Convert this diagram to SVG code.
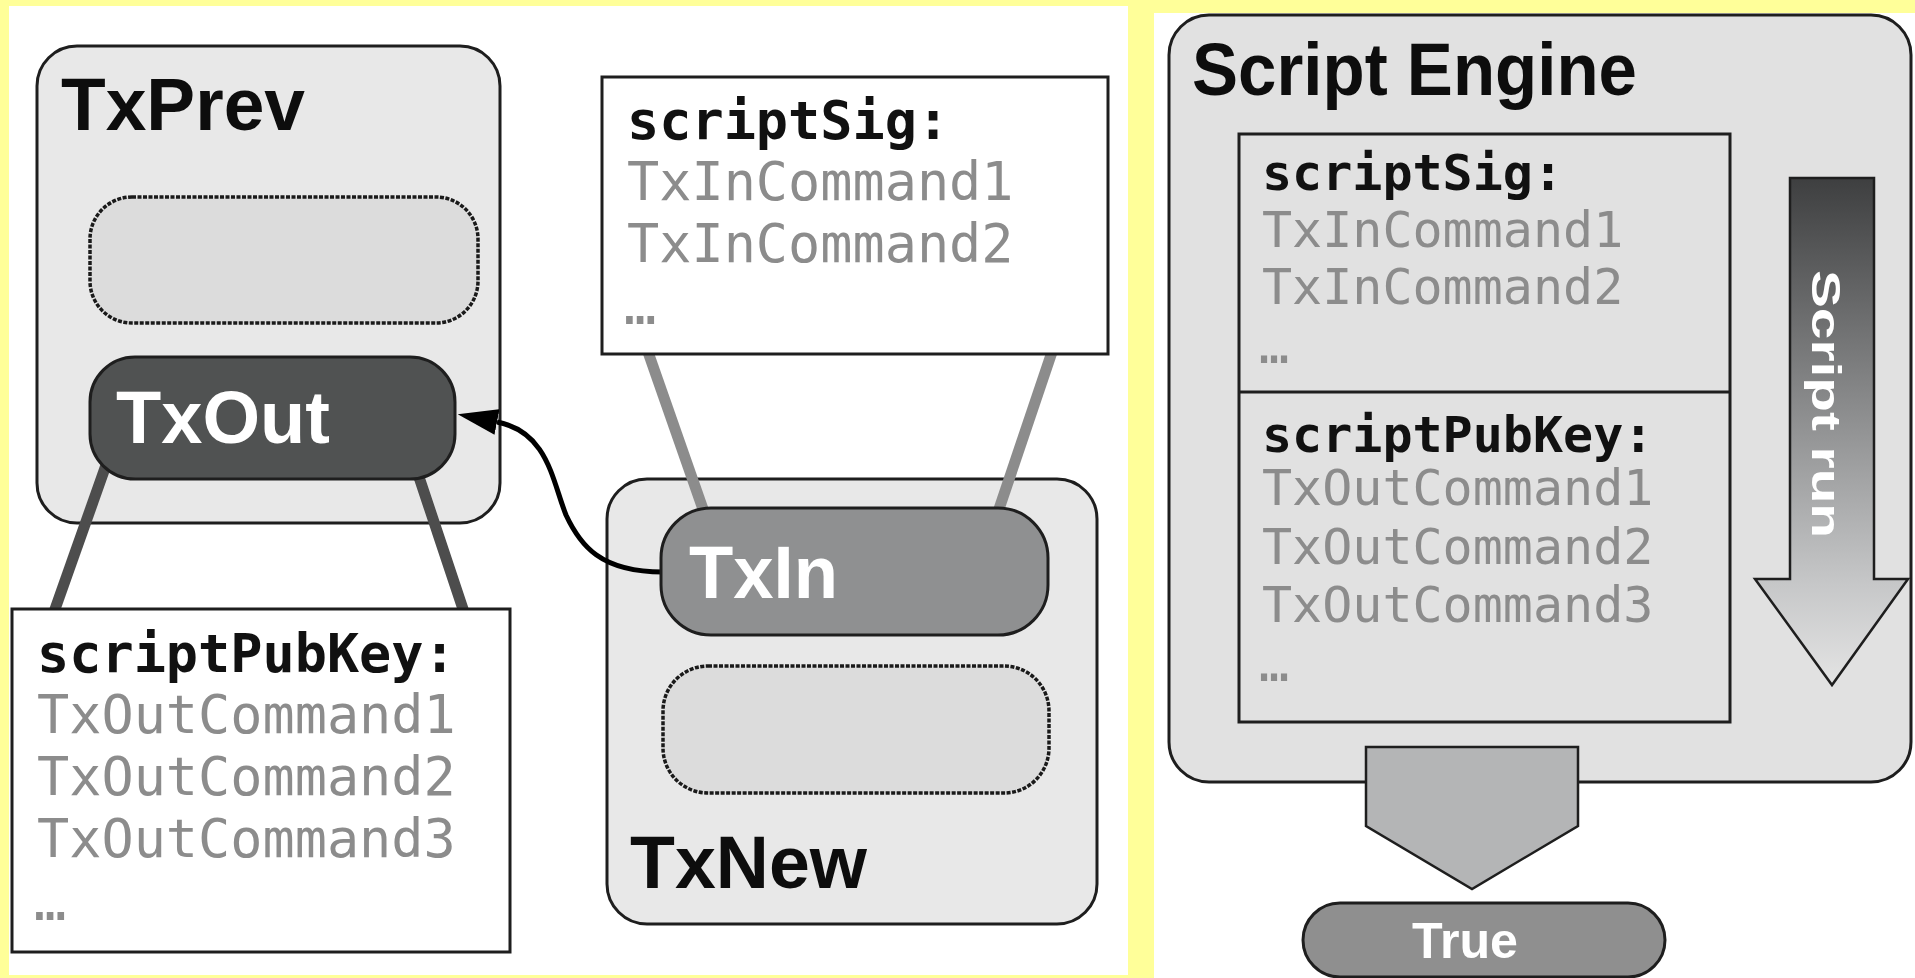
<svg xmlns="http://www.w3.org/2000/svg" width="1915" height="978" viewBox="0 0 1915 978">
  <style>
    .box { stroke: #1e1e1e; stroke-width: 3; }
    .container { fill: #e8e8e8; }
    .slot { fill: #dcdcdc; stroke: #1a1a1a; stroke-width: 3.5; stroke-dasharray: 4 1.5; }
    .label { font-family: "Liberation Sans", Arial, sans-serif; font-weight: bold; }
    .mono { font-family: "DejaVu Sans Mono", "Liberation Mono", monospace; }
    .mono-l { font-size: 53.5px; }
    .mono-r { font-size: 50px; }
    .head { font-weight: bold; fill: #111111; }
    .cmd { fill: #8c8c8c; }
    .dark-link { stroke: #4d4d4d; stroke-width: 11; fill: none; }
    .light-link { stroke: #8c8c8c; stroke-width: 11; fill: none; }
  </style>
  <defs>
    <marker id="arrowhead" viewBox="0 0 40 26" refX="0" refY="13" markerWidth="40" markerHeight="26" markerUnits="userSpaceOnUse" orient="auto">
      <path d="M0,0 L40,13 L0,26 Z" fill="#000000"/>
    </marker>
    <linearGradient id="runGradient" x1="0" y1="178" x2="0" y2="685" gradientUnits="userSpaceOnUse">
      <stop offset="0" stop-color="#3e3f40"/>
      <stop offset="0.45" stop-color="#8a8b8c"/>
      <stop offset="0.8" stop-color="#c6c7c8"/>
      <stop offset="1" stop-color="#e4e4e4"/>
    </linearGradient>
  </defs>

  <!-- background and panels -->
  <g id="panels">
    <rect x="0" y="0" width="1915" height="978" fill="#ffff99"/>
    <rect x="9" y="6" width="1119" height="969" fill="#ffffff"/>
    <rect x="1154" y="13" width="761" height="965" fill="#ffffff"/>
  </g>

  <!-- previous transaction -->
  <g id="tx-prev">
    <rect class="box container" x="37" y="46" width="463" height="477" rx="40"/>
    <text class="label" x="61" y="130" font-size="74" textLength="244" lengthAdjust="spacingAndGlyphs" fill="#0d0d0d">TxPrev</text>
    <rect class="slot" x="90" y="197" width="388" height="126" rx="42"/>
  </g>

  <!-- new transaction -->
  <g id="tx-new">
    <rect class="box container" x="607" y="479" width="490" height="445" rx="40"/>
    <text class="label" x="630" y="888" font-size="74" textLength="237" lengthAdjust="spacingAndGlyphs" fill="#0d0d0d">TxNew</text>
    <rect class="slot" x="663" y="666" width="386" height="127" rx="45"/>
  </g>

  <!-- connectors -->
  <g id="connectors">
    <line class="dark-link" x1="122" y1="420" x2="54" y2="612"/>
    <line class="dark-link" x1="400" y1="420" x2="464" y2="612"/>
    <line class="light-link" x1="648" y1="352" x2="704" y2="512"/>
    <line class="light-link" x1="1052" y1="352" x2="998" y2="512"/>
    <path d="M663,572 C600,572 580,545 566,515 C552,480 548,432 497,422" fill="none" stroke="#000000" stroke-width="5" marker-end="url(#arrowhead)"/>
  </g>

  <!-- output of the previous transaction -->
  <g id="tx-out">
    <rect class="box" x="90" y="357" width="365" height="122" rx="45" fill="#505252"/>
    <text class="label" x="116" y="443" font-size="74" textLength="214" lengthAdjust="spacingAndGlyphs" fill="#ffffff">TxOut</text>
  </g>

  <!-- input of the new transaction -->
  <g id="tx-in">
    <rect class="box" x="661" y="508" width="387" height="127" rx="50" fill="#8f9091"/>
    <text class="label" x="689" y="598" font-size="74" textLength="149" lengthAdjust="spacingAndGlyphs" fill="#ffffff">TxIn</text>
  </g>

  <!-- unlocking script -->
  <g id="script-sig">
    <rect class="box" x="602" y="77" width="506" height="277" fill="#ffffff"/>
    <text class="mono mono-l head" x="627" y="139">scriptSig:</text>
    <text class="mono mono-l cmd" x="627" y="200">TxInCommand1</text>
    <text class="mono mono-l cmd" x="627" y="262">TxInCommand2</text>
    <text class="mono mono-l cmd" x="624" y="324">…</text>
  </g>

  <!-- locking script -->
  <g id="script-pub-key">
    <rect class="box" x="12" y="609" width="498" height="343" fill="#ffffff"/>
    <text class="mono mono-l head" x="37" y="672">scriptPubKey:</text>
    <text class="mono mono-l cmd" x="37" y="733">TxOutCommand1</text>
    <text class="mono mono-l cmd" x="37" y="795">TxOutCommand2</text>
    <text class="mono mono-l cmd" x="37" y="857">TxOutCommand3</text>
    <text class="mono mono-l cmd" x="34" y="920">…</text>
  </g>

  <!-- script engine -->
  <g id="script-engine">
    <rect class="box" x="1169" y="15" width="742" height="767" rx="40" fill="#e1e1e1"/>
    <text class="label" x="1192" y="95" font-size="74" textLength="445" lengthAdjust="spacingAndGlyphs" fill="#0d0d0d">Script Engine</text>
    <rect class="box" x="1239" y="134" width="491" height="588" fill="none"/>
    <line class="box" x1="1239" y1="392" x2="1730" y2="392"/>
    <text class="mono mono-r head" x="1262" y="190">scriptSig:</text>
    <text class="mono mono-r cmd" x="1262" y="247">TxInCommand1</text>
    <text class="mono mono-r cmd" x="1262" y="304">TxInCommand2</text>
    <text class="mono mono-r cmd" x="1259" y="363">…</text>
    <text class="mono mono-r head" x="1262" y="452">scriptPubKey:</text>
    <text class="mono mono-r cmd" x="1262" y="505">TxOutCommand1</text>
    <text class="mono mono-r cmd" x="1262" y="564">TxOutCommand2</text>
    <text class="mono mono-r cmd" x="1262" y="622">TxOutCommand3</text>
    <text class="mono mono-r cmd" x="1259" y="681">…</text>
  </g>

  <!-- execution order arrow -->
  <g id="script-run">
    <path d="M1790,178 L1874,178 L1874,579 L1908,579 L1832,685 L1755,579 L1790,579 Z" fill="url(#runGradient)" stroke="#1e1e1e" stroke-width="2.5" stroke-linejoin="miter"/>
    <text class="label" transform="translate(1812,270) rotate(90)" x="0" y="0" font-size="41" textLength="268" lengthAdjust="spacingAndGlyphs" fill="#ffffff">Script run</text>
  </g>

  <!-- engine result -->
  <g id="result-arrow">
    <path d="M1366,747 L1578,747 L1578,826 L1472,889 L1366,826 Z" fill="#b4b5b6" stroke="#1e1e1e" stroke-width="2.5"/>
  </g>

  <g id="true">
    <rect class="box" x="1303" y="903" width="362" height="74" rx="37" fill="#8f8f8f"/>
    <text class="label" x="1412" y="958" font-size="50" textLength="106" lengthAdjust="spacingAndGlyphs" fill="#ffffff">True</text>
  </g>
</svg>
